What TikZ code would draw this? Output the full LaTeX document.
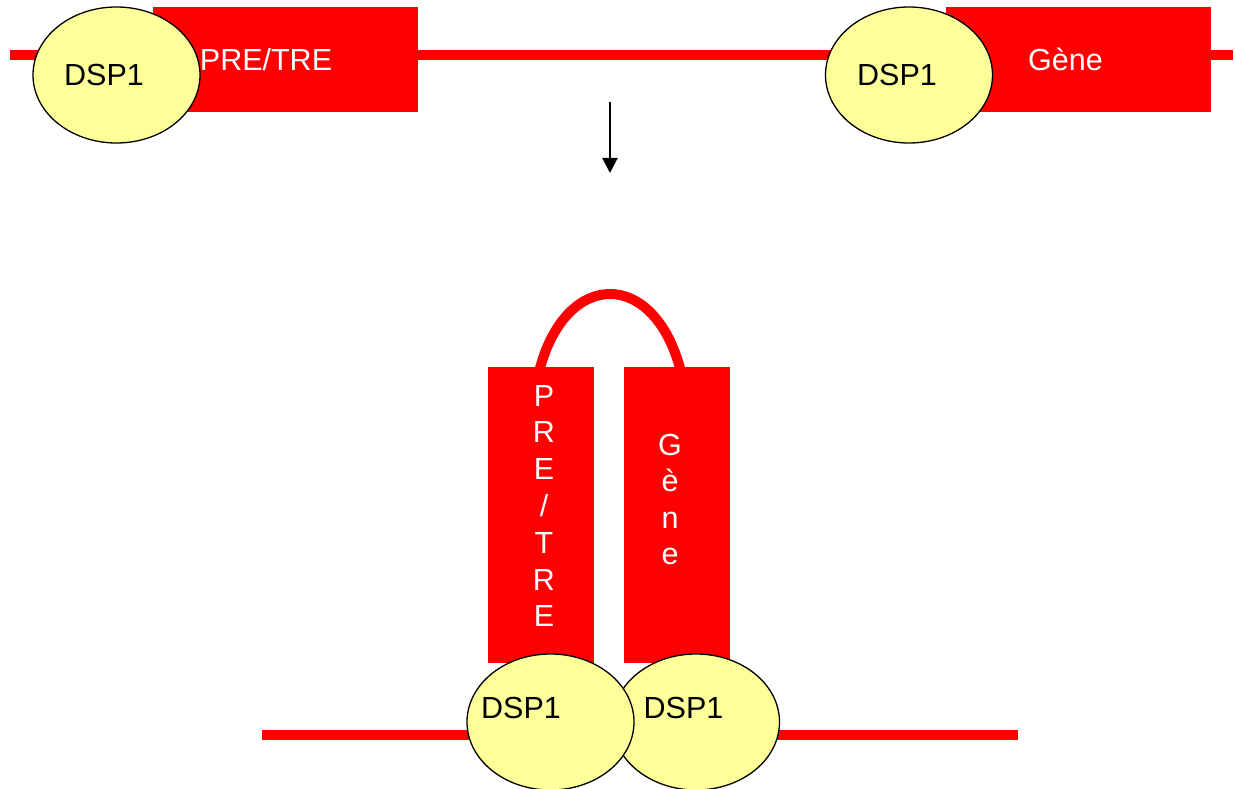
\documentclass[tikz,border=0pt]{standalone}
\usepackage{fontspec}
\setmainfont{Liberation Sans}
\usetikzlibrary{shapes.geometric,arrows.meta}
\definecolor{dnared}{HTML}{FF0000}
\definecolor{dspyellow}{HTML}{FFFF99}
\begin{document}
\begin{tikzpicture}[x=1pt,y=-1pt,
  dna/.style={draw=dnared, line width=10pt},
  block/.style={fill=dnared, draw=none, inner sep=0pt},
  dsp/.style={ellipse, draw=black, line width=1.3pt, fill=dspyellow,
              minimum width=167pt, minimum height=136pt, inner sep=0pt},
  lbl/.style={font=\fontsize{30.5}{36.7}\selectfont, inner sep=0pt, anchor=base},
  wlbl/.style={lbl, text=white}]
\useasboundingbox (0,0) rectangle (1235,789);

% top strand
\coordinate (tl) at (10,55);
\coordinate (tr) at (1233,55);
\draw[dna] (tl) -- (tr);
\node[block, minimum width=265pt, minimum height=105pt] (pre) at (285.5,59.5) {};
\node[block, minimum width=265pt, minimum height=105pt] (gene) at (1078.5,59.5) {};
\node[dsp] (d1) at (116.5,75) {};
\node[dsp] (d2) at (909,75) {};
\node[lbl] (d1t) at (104,86) {DSP1};
\node[lbl] (d2t) at (897,86) {DSP1};
\node[wlbl] (pret) at (266,71) {PRE/TRE};
\node[wlbl] (genet) at (1065.5,71) {Gène};

% arrow
\coordinate (a1) at (610,102);
\coordinate (a2) at (610,173);
\draw[line width=2pt, -{Triangle[length=15pt,width=15pt]}] (a1) -- (a2);

% loop
\coordinate (arcL) at (539,372);
\coordinate (arcR) at (681,372);
\draw[draw=dnared, line width=10pt] (arcL) .. controls (565,268) and (655,268) .. (arcR);
\node[block, minimum width=106pt, minimum height=296pt] (preb) at (541,515) {};
\node[block, minimum width=106pt, minimum height=296pt] (geneb) at (677,515) {};
\foreach \ch [count=\i] in {P,R,E,/,T,R,E}{
  \node[wlbl] (pv\i) at (544,{406+36.8*(\i-1)}) {\ch};
}
\foreach \ch [count=\i] in {G,è,n,e}{
  \node[wlbl] (gv\i) at (670,{455+36.5*(\i-1)}) {\ch};
}

% bottom strand
\coordinate (bl) at (262,735);
\coordinate (br) at (1018,735);
\draw[dna] (bl) -- (br);
\node[dsp] (d4) at (696,722) {};
\node[dsp] (d3) at (550.5,722) {};
\node[lbl] (d3t) at (521,718) {DSP1};
\node[lbl] (d4t) at (683.5,718) {DSP1};
\end{tikzpicture}
\end{document}
